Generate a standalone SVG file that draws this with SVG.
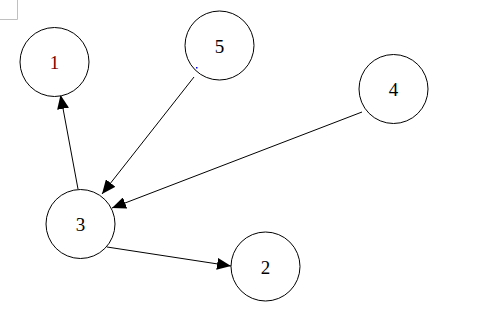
<svg xmlns="http://www.w3.org/2000/svg" width="498" height="309" viewBox="0 0 498 309">
<style>
.node circle{fill:#fff;stroke:#000;stroke-width:1}
.node text{font-family:"Liberation Serif","DejaVu Serif",serif;font-size:19px;text-anchor:middle;dominant-baseline:central;fill:#000}
.edge{stroke:#000;stroke-width:1;fill:none;marker-end:url(#arr)}
</style>
<defs>
<marker id="arr" markerUnits="userSpaceOnUse" markerWidth="14" markerHeight="12" viewBox="0 0 14 12" refX="14" refY="6" orient="auto">
<path d="M0,0 L14,6 L0,12 Z" fill="#000"/>
</marker>
</defs>
<rect width="498" height="309" fill="#fff"/>
<path d="M0,19.5 H17.5 V0" fill="none" stroke="#c0c0c0" stroke-width="1"/>
<g id="edges">
<line class="edge" x1="78" y1="189" x2="60.5" y2="95"/>
<line class="edge" x1="194" y1="77" x2="102" y2="194"/>
<line class="edge" x1="362" y1="112" x2="112" y2="208"/>
<line class="edge" x1="107" y1="247" x2="231" y2="266"/>
</g>
<g id="node1" class="node"><circle cx="54.5" cy="62" r="34.5"/><text x="54.5" y="62" style="fill:#800000">1</text></g>
<g id="node5" class="node"><circle cx="219.5" cy="45.5" r="34.5"/><text x="219.5" y="46">5</text></g>
<g id="node4" class="node"><circle cx="393.5" cy="89" r="34.5"/><text x="393.5" y="89">4</text></g>
<g id="node3" class="node"><circle cx="80.5" cy="224" r="34.5"/><text x="80.5" y="224">3</text></g>
<g id="node2" class="node"><circle cx="265.5" cy="266.5" r="34.5"/><text x="265.5" y="267">2</text></g>
<rect x="196" y="67" width="1.5" height="1.5" fill="#0000ff"/>
</svg>
